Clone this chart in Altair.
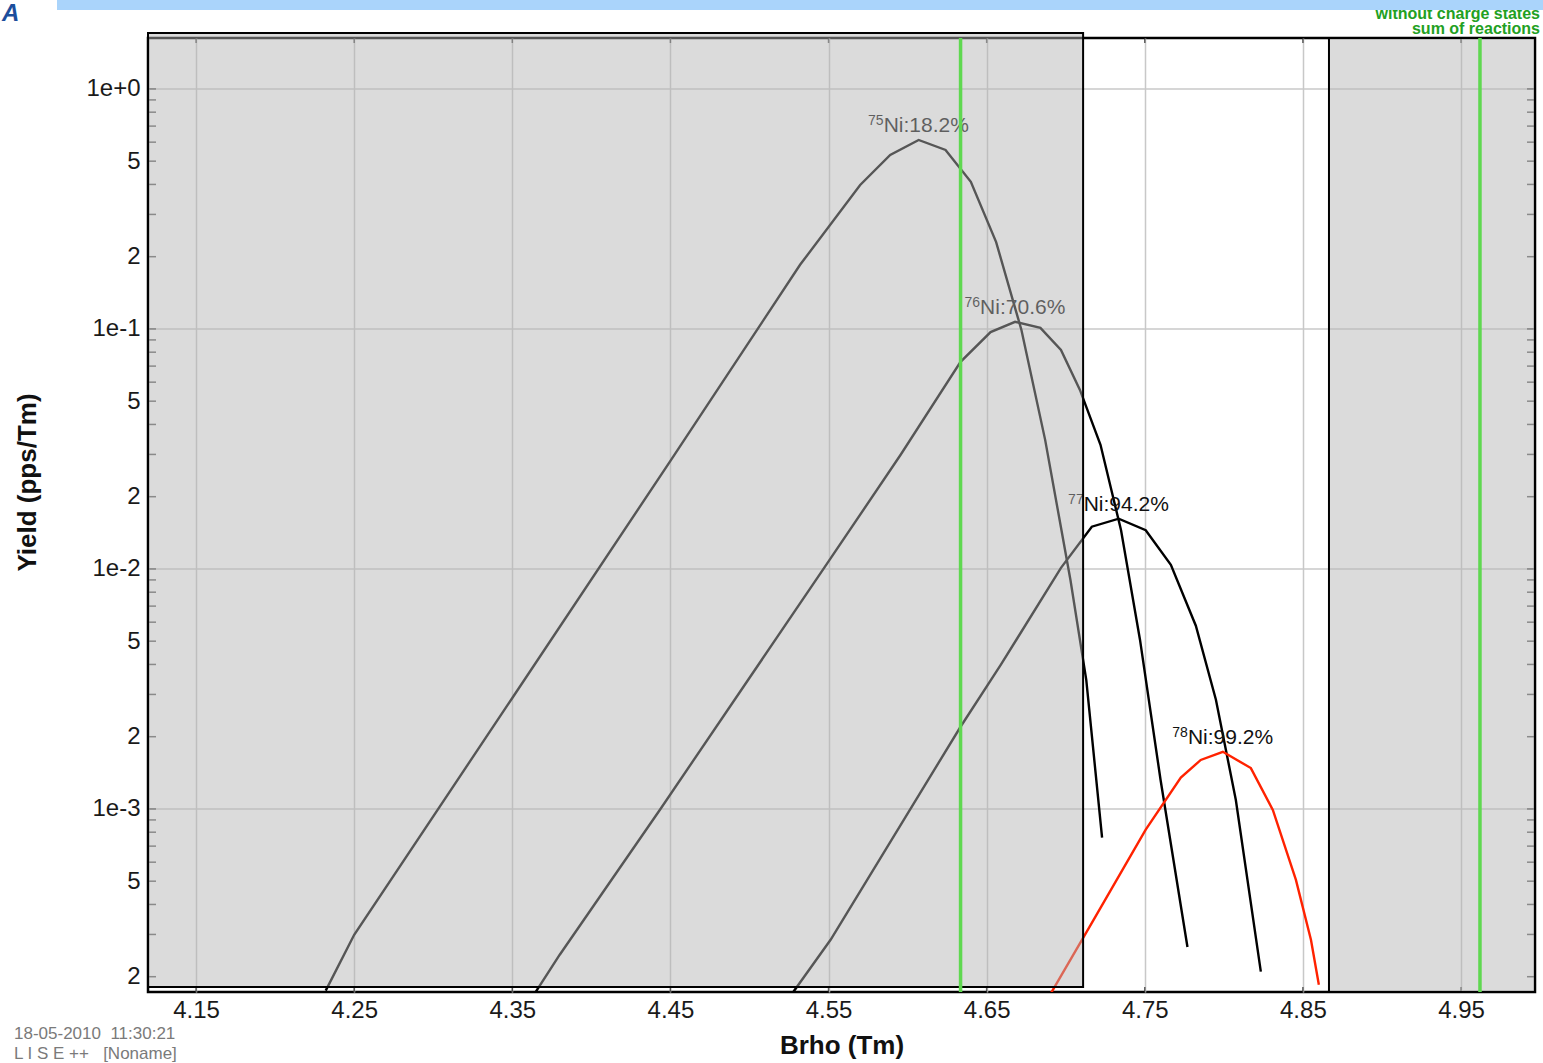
import altair as alt
import pandas as pd

# ---- axis ranges ----
X_MIN, X_MAX = 4.1196, 4.9968
Y_MIN, Y_MAX = 1.727e-4, 1.63

# ---- curves (Brho in Tm, Yield in pps/Tm) ----
ni75_brho = [4.232, 4.25, 4.35, 4.45, 4.532, 4.570, 4.589, 4.607, 4.624, 4.640, 4.656, 4.672, 4.687, 4.703, 4.713, 4.723]
ni75_yield = [1.75e-4, 2.99e-4, 2.9e-3, 0.0282, 0.185, 0.398, 0.531, 0.613, 0.557, 0.41, 0.23, 0.099, 0.0345, 0.009, 0.00345, 7.6e-4]

ni76_brho = [4.3646, 4.380, 4.4437, 4.5468, 4.5956, 4.6335, 4.6525, 4.668, 4.684, 4.697, 4.709, 4.722, 4.735, 4.747, 4.760, 4.777]
ni76_yield = [1.72e-4, 2.47e-4, 1.0e-3, 0.01, 0.0299, 0.0729, 0.097, 0.107, 0.101, 0.0818, 0.0557, 0.0329, 0.0145, 0.00506, 1.32e-3, 2.66e-4]

ni77_brho = [4.5278, 4.5513, 4.6335, 4.6589, 4.697, 4.7165, 4.7335, 4.7506, 4.7665, 4.7823, 4.795, 4.8076, 4.8234]
ni77_yield = [1.73e-4, 2.85e-4, 2.2e-3, 3.98e-3, 0.0101, 0.015, 0.0162, 0.0145, 0.0104, 5.8e-3, 2.85e-3, 1.09e-3, 2.1e-4]

ni78_brho = [4.6905, 4.7158, 4.7506, 4.7728, 4.7854, 4.7994, 4.8171, 4.8310, 4.8456, 4.8551, 4.8601]
ni78_yield = [1.7e-4, 3.29e-4, 8.2e-4, 1.35e-3, 1.6e-3, 1.73e-3, 1.48e-3, 9.9e-4, 5.06e-4, 2.85e-4, 1.85e-4]

isotopes = ["75Ni", "76Ni", "77Ni", "78Ni"]
iso_mass = ["75", "76", "77", "78"]
iso_text = ["Ni:18.2%", "Ni:70.6%", "Ni:94.2%", "Ni:99.2%"]
iso_colors = ["#000000", "#000000", "#000000", "#ff2200"]

# ---- shaded (excluded) regions and slit lines ----
box_brho = [X_MIN, 4.8665]
box_brho2 = [4.711, X_MAX]
box_yield = [1.813e-4, Y_MIN]
box_yield2 = [1.71, Y_MAX]
slit_brho = [4.6335, 4.962]

# ---- tick labels ----
x_tick_values = [4.15, 4.25, 4.35, 4.45, 4.55, 4.65, 4.75, 4.85, 4.95]
y_tick_values = [1, 0.5, 0.2, 0.1, 0.05, 0.02, 0.01, 0.005, 0.002, 0.001, 5e-4, 2e-4]
y_grid_values = [1, 0.1, 0.01, 0.001]
y_minor_values = [k * 10.0 ** e for e in range(-4, 1) for k in range(1, 10)
                  if Y_MIN <= k * 10.0 ** e <= Y_MAX]

legend_lines = ["without charge states", "sum of reactions"]
stamp_lines = ["18-05-2010\u00a0\u00a011:30:21", "L I S E ++\u00a0\u00a0\u00a0[Noname]"]

# ---- tables ----
rows = []
for name, bx, by in zip(isotopes, [ni75_brho, ni76_brho, ni77_brho, ni78_brho],
                        [ni75_yield, ni76_yield, ni77_yield, ni78_yield]):
    for i, (a, b) in enumerate(zip(bx, by)):
        rows.append({"iso": name, "brho": a, "yield": b, "ord": i})
curves = pd.DataFrame(rows)

lab_rows = []
for name, m, t, bx, by in zip(isotopes, iso_mass, iso_text,
                              [ni75_brho, ni76_brho, ni77_brho, ni78_brho],
                              [ni75_yield, ni76_yield, ni77_yield, ni78_yield]):
    k = by.index(max(by))
    lab_rows.append({"iso": name, "brho": bx[k], "yield": by[k], "mass": m, "txt": t})
labels = pd.DataFrame(lab_rows)

boxes = pd.DataFrame({"brho": box_brho, "brho2": box_brho2, "yield": box_yield, "yield2": box_yield2})
slits = pd.DataFrame({"brho": slit_brho})
ygrid = pd.DataFrame({"yield": y_grid_values})
xticks = pd.DataFrame({"brho": x_tick_values * 2,
                       "yield": [Y_MIN] * len(x_tick_values) + [Y_MAX] * len(x_tick_values)})
yticks = pd.DataFrame({"brho": [X_MIN] * len(y_minor_values) + [X_MAX] * len(y_minor_values),
                       "yield": y_minor_values * 2})

# ---- scales & axes ----
FONT = "Liberation Sans"
xs = alt.Scale(domain=[X_MIN, X_MAX], nice=False, zero=False)
ys = alt.Scale(type="log", domain=[Y_MIN, Y_MAX], nice=False)

label_expr = ("abs(log(datum.value)/LN10 - round(log(datum.value)/LN10)) < 0.01 ? "
              "('1e' + (round(log(datum.value)/LN10) >= 0 ? '+' : '') + round(log(datum.value)/LN10)) : "
              "(datum.value / pow(10, floor(log(datum.value)/LN10)) > 3 ? '5' : '2')")

xaxis = alt.Axis(values=x_tick_values, format=".2f", title="Brho (Tm)", grid=True,
                 gridColor="#c8c8c8", gridWidth=1.5, ticks=False, domain=False,
                 labelFont=FONT, labelFontSize=24, labelColor="#1a1a1a", labelPadding=6,
                 labelFlush=False, labelOverlap=False,
                 titleFont=FONT, titleFontSize=26, titleFontWeight="bold", titleColor="#111111",
                 titleBaseline="alphabetic", titleY=61)
yaxis = alt.Axis(values=y_tick_values, labelExpr=label_expr, title="Yield (pps/Tm)", grid=False,
                 ticks=False, domain=False, labelFont=FONT, labelFontSize=24,
                 labelColor="#1a1a1a", labelPadding=8, labelFlush=False, labelOverlap=False,
                 titleFont=FONT, titleFontSize=26, titleFontWeight="bold", titleColor="#111111",
                 titleAngle=270, titleBaseline="alphabetic", titleX=-113, titleY=444,
                 titleAlign="center")

X = lambda: alt.X("brho:Q", scale=xs, axis=xaxis)
Y = lambda: alt.Y("yield:Q", scale=ys, axis=yaxis)

grid_layer = alt.Chart(ygrid).mark_rule(color="#c8c8c8", strokeWidth=1.5).encode(y=Y())

line_layer = alt.Chart(curves).mark_line(strokeWidth=2.4, clip=True).encode(
    x=X(), y=Y(),
    color=alt.Color("iso:N", scale=alt.Scale(domain=isotopes, range=iso_colors), legend=None),
    order="ord:Q",
)

sup_layer = alt.Chart(labels).mark_text(
    font=FONT, fontSize=14, align="right", baseline="alphabetic", dx=-35, dy=-15, color="#111111"
).encode(x=X(), y=Y(), text="mass:N")

main_layer = alt.Chart(labels).mark_text(
    font=FONT, fontSize=21, align="left", baseline="alphabetic", dx=-35, dy=-8, color="#111111"
).encode(x=X(), y=Y(), text="txt:N")

xtick_layer = alt.Chart(xticks).mark_tick(
    orient="vertical", size=10, thickness=1.5, color="#222222", clip=True
).encode(x=X(), y=Y())

ytick_layer = alt.Chart(yticks).mark_tick(
    orient="horizontal", size=16, thickness=1.5, color="#222222", clip=True
).encode(x=X(), y=Y())

box_layer = alt.Chart(boxes).mark_rect(
    fill="#b4b4b4", fillOpacity=0.48, stroke="black", strokeWidth=2
).encode(x=X(), x2="brho2:Q", y=Y(), y2="yield2:Q")

slit_layer = alt.Chart(slits).mark_rule(color="#5fd850", strokeWidth=3.5).encode(x=X())

legend_df = pd.DataFrame({"t": legend_lines, "yy": [-19, -4]})
legend_layer = alt.Chart(legend_df).mark_text(
    font=FONT, fontSize=16, fontWeight="bold", align="right", baseline="alphabetic", color="#22a022"
).encode(x=alt.value(1392), y=alt.Y("yy:Q", scale=None), text="t:N")

bar_layer = alt.Chart(pd.DataFrame({"a": [0]})).mark_rect(color="#aad4fb").encode(
    x=alt.value(-91), x2=alt.value(1395), y=alt.value(-40), y2=alt.value(-28))

logo_layer = alt.Chart(pd.DataFrame({"t": ["A"]})).mark_text(
    font=FONT, fontSize=24, fontWeight="bold", fontStyle="italic", align="left",
    baseline="alphabetic", color="#1c4e9c"
).encode(x=alt.value(-146), y=alt.value(-17), text="t:N")

stamp_df = pd.DataFrame({"t": stamp_lines, "yy": [1001, 1021]})
stamp_layer = alt.Chart(stamp_df).mark_text(
    font=FONT, fontSize=17, align="left", baseline="alphabetic", color="#7a7a7a"
).encode(x=alt.value(-134), y=alt.Y("yy:Q", scale=None), text="t:N")

chart = alt.layer(
    grid_layer, line_layer, sup_layer, main_layer, xtick_layer, ytick_layer,
    box_layer, slit_layer, legend_layer, bar_layer, logo_layer, stamp_layer
).properties(
    width=1387, height=954,
    autosize=alt.AutoSizeParams(type="none"),
    padding={"left": 148, "top": 38, "right": 8, "bottom": 71},
    background="white",
).configure_view(stroke="black", strokeWidth=2.5)

chart.save("out.html", embed_options={"renderer": "svg", "actions": False})
